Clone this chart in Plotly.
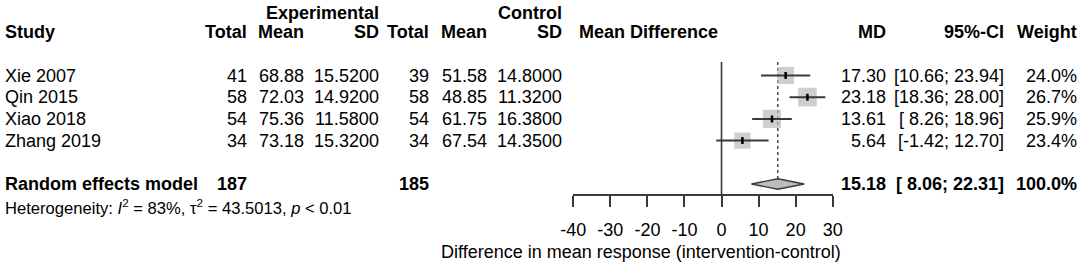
import plotly.graph_objects as go

# ---------------- data ----------------
studies = ["Xie 2007", "Qin 2015", "Xiao 2018", "Zhang 2019"]
exp_total = [41, 58, 54, 34]
exp_mean = [68.88, 72.03, 75.36, 73.18]
exp_sd = [15.52, 14.92, 11.58, 15.32]
ctl_total = [39, 58, 54, 34]
ctl_mean = [51.58, 48.85, 61.75, 67.54]
ctl_sd = [14.80, 11.32, 16.38, 14.35]
md = [17.30, 23.18, 13.61, 5.64]
ci_lo = [10.66, 18.36, 8.26, -1.42]
ci_hi = [23.94, 28.00, 18.96, 12.70]
weight = [24.0, 26.7, 25.9, 23.4]

pooled_label = "Random effects model"
pooled_exp_total = 187
pooled_ctl_total = 185
pooled_md = 15.18
pooled_lo = 8.06
pooled_hi = 22.31
pooled_weight = 100.0

het_I2 = 83
het_tau2 = 43.5013
het_p = "0.01"

x_ticks = [-40, -30, -20, -10, 0, 10, 20, 30]
x_title = "Difference in mean response (intervention-control)"

# ---------------- layout helpers ----------------
W, H = 1084, 266
Y0, DY = 75.5, 21.7          # pixel y of first study row, row spacing


def px(x):
    return x / W


def row_of(ypix):
    return (ypix - Y0) / DY


FONT = "Liberation Sans, Arial, sans-serif"
FS = 18
TXT = "#000000"
DARK = "#3a3a3a"
BOX = "#BBBBBB"

rows = list(range(len(studies)))
pooled_row = len(studies) + 1

fig = go.Figure()

# zero (no effect) line
fig.add_trace(go.Scatter(x=[0, 0], y=[row_of(62), row_of(195)], mode="lines",
                         line=dict(color=DARK, width=1.6), hoverinfo="skip", showlegend=False))
# dotted line at pooled estimate
fig.add_trace(go.Scatter(x=[pooled_md, pooled_md], y=[row_of(62), pooled_row - 0.24],
                         mode="lines", line=dict(color=DARK, width=1.4, dash="dot"),
                         hoverinfo="skip", showlegend=False))

# weight boxes
fig.add_trace(go.Scatter(x=md, y=rows, mode="markers",
                         marker=dict(symbol="square", color=BOX,
                                     size=[w * 0.70 for w in weight], line=dict(width=0)),
                         hoverinfo="skip", showlegend=False))

# CI lines
cx, cy = [], []
for lo, hi, r in zip(ci_lo, ci_hi, rows):
    cx += [lo, hi, None]
    cy += [r, r, None]
fig.add_trace(go.Scatter(x=cx, y=cy, mode="lines", line=dict(color=DARK, width=2),
                         hoverinfo="skip", showlegend=False))

# point estimates
fig.add_trace(go.Scatter(x=md, y=rows, mode="markers",
                         marker=dict(symbol="line-ns", size=5, line=dict(width=2.5, color="black")),
                         hoverinfo="skip", showlegend=False))

# pooled diamond
h = 0.24
fig.add_trace(go.Scatter(x=[pooled_lo, pooled_md, pooled_hi, pooled_md, pooled_lo],
                         y=[pooled_row, pooled_row - h, pooled_row, pooled_row + h, pooled_row],
                         mode="lines", fill="toself", fillcolor=BOX,
                         line=dict(color=DARK, width=1.4), hoverinfo="skip", showlegend=False))

ann = []


def add(text, xpix, row, anchor="right", bold=False, size=FS, yref="y"):
    ann.append(dict(text=f"<b>{text}</b>" if bold else text, x=px(xpix), y=row,
                    xref="paper", yref=yref, xanchor=anchor, yanchor="middle",
                    showarrow=False, font=dict(family=FONT, size=size, color=TXT)))


# column right edges (pixels)
C_ET, C_EM, C_ES = 249, 306, 381
C_CT, C_CM, C_CS = 431, 489, 564
C_MD, C_CI, C_W = 888, 1006, 1079

# headers
add("Experimental", C_ES, row_of(13), bold=True)
add("Control", C_CS, row_of(13), bold=True)
hr = row_of(32)
add("Study", 3, hr, anchor="left", bold=True)
add("Total", C_ET, hr, bold=True)
add("Mean", C_EM, hr, bold=True)
add("SD", C_ES, hr, bold=True)
add("Total", C_CT, hr, bold=True)
add("Mean", C_CM, hr, bold=True)
add("SD", C_CS, hr, bold=True)
add("Mean Difference", 577, hr, anchor="left", bold=True)
add("MD", C_MD, hr, bold=True)
add("95%-CI", C_CI, hr, bold=True)
add("Weight", C_W, hr, bold=True)

# study rows
for i, r in enumerate(rows):
    add(studies[i], 3, r, anchor="left")
    add(f"{exp_total[i]}", C_ET, r)
    add(f"{exp_mean[i]:.2f}", C_EM, r)
    add(f"{exp_sd[i]:.4f}", C_ES, r)
    add(f"{ctl_total[i]}", C_CT, r)
    add(f"{ctl_mean[i]:.2f}", C_CM, r)
    add(f"{ctl_sd[i]:.4f}", C_CS, r)
    add(f"{md[i]:.2f}", C_MD, r)
    add(f"[{ci_lo[i]:5.2f}; {ci_hi[i]:5.2f}]", C_CI, r)
    add(f"{weight[i]:.1f}%", C_W, r)

# pooled row
add(pooled_label, 3, pooled_row, anchor="left", bold=True)
add(f"{pooled_exp_total}", C_ET, pooled_row, bold=True)
add(f"{pooled_ctl_total}", C_CT, pooled_row, bold=True)
add(f"{pooled_md:.2f}", C_MD, pooled_row, bold=True)
add(f"[{pooled_lo:5.2f}; {pooled_hi:5.2f}]", C_CI, pooled_row, bold=True)
add(f"{pooled_weight:.1f}%", C_W, pooled_row, bold=True)

# heterogeneity
add(f"Heterogeneity: <i>I</i><sup>2</sup> = {het_I2}%, τ<sup>2</sup> = {het_tau2:.4f}, "
    f"<i>p</i> &lt; {het_p}", 3, row_of(207), anchor="left", size=16.6)

# x-axis title
add(x_title, 843, row_of(252))

fig.update_layout(
    width=W, height=H, margin=dict(l=0, r=0, t=0, b=0, autoexpand=False), autosize=False,
    paper_bgcolor="white", plot_bgcolor="white",
    annotations=ann, showlegend=False,
    xaxis=dict(domain=[573.3 / W, 832.7 / W], range=[-40, 30], anchor="free",
               position=(H - 195) / H, showline=True, linecolor=DARK, linewidth=1.5,
               ticks="outside", ticklen=11, tickwidth=1.5, tickcolor=DARK,
               tickvals=x_ticks, ticktext=[str(t) for t in x_ticks],
               tickfont=dict(family=FONT, size=FS, color=TXT), ticklabelstandoff=8,
               showgrid=False, zeroline=False, fixedrange=True, automargin=False),
    yaxis=dict(domain=[0, 1], range=[row_of(H), row_of(0)], visible=False,
               showgrid=False, zeroline=False, fixedrange=True, automargin=False),
)

fig.write_html("out.html", config={"displayModeBar": False},
               post_script="document.body.style.margin='0';document.body.style.overflow='hidden';")
